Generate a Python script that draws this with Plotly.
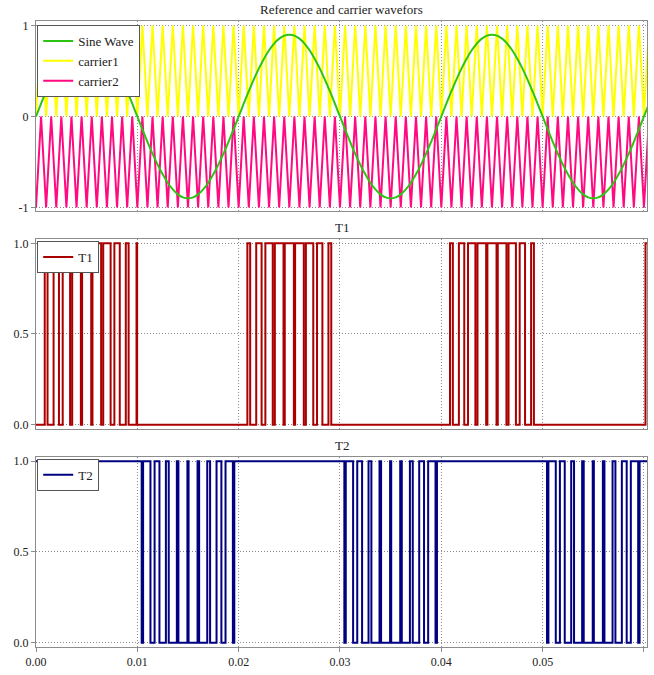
import plotly.graph_objects as go

# ---------------- data ----------------
carrier_t = [
    0.0, 0.0005, 0.001, 0.0015, 0.002, 0.0025, 0.003, 0.0035, 0.004, 0.0045,
    0.005, 0.0055, 0.006, 0.0065, 0.007, 0.0075, 0.008, 0.0085, 0.009, 0.0095,
    0.01, 0.0105, 0.011, 0.0115, 0.012, 0.0125, 0.013, 0.0135, 0.014, 0.0145,
    0.015, 0.0155, 0.016, 0.0165, 0.017, 0.0175, 0.018, 0.0185, 0.019, 0.0195,
    0.02, 0.0205, 0.021, 0.0215, 0.022, 0.0225, 0.023, 0.0235, 0.024, 0.0245,
    0.025, 0.0255, 0.026, 0.0265, 0.027, 0.0275, 0.028, 0.0285, 0.029, 0.0295,
    0.03, 0.0305, 0.031, 0.0315, 0.032, 0.0325, 0.033, 0.0335, 0.034, 0.0345,
    0.035, 0.0355, 0.036, 0.0365, 0.037, 0.0375, 0.038, 0.0385, 0.039, 0.0395,
    0.04, 0.0405, 0.041, 0.0415, 0.042, 0.0425, 0.043, 0.0435, 0.044, 0.0445,
    0.045, 0.0455, 0.046, 0.0465, 0.047, 0.0475, 0.048, 0.0485, 0.049, 0.0495,
    0.05, 0.0505, 0.051, 0.0515, 0.052, 0.0525, 0.053, 0.0535, 0.054, 0.0545,
    0.055, 0.0555, 0.056, 0.0565, 0.057, 0.0575, 0.058, 0.0585, 0.059, 0.0595,
    0.06, 0.0605,
]

carrier1 = [
    0, 1, 0, 1, 0, 1, 0, 1, 0, 1,
    0, 1, 0, 1, 0, 1, 0, 1, 0, 1,
    0, 1, 0, 1, 0, 1, 0, 1, 0, 1,
    0, 1, 0, 1, 0, 1, 0, 1, 0, 1,
    0, 1, 0, 1, 0, 1, 0, 1, 0, 1,
    0, 1, 0, 1, 0, 1, 0, 1, 0, 1,
    0, 1, 0, 1, 0, 1, 0, 1, 0, 1,
    0, 1, 0, 1, 0, 1, 0, 1, 0, 1,
    0, 1, 0, 1, 0, 1, 0, 1, 0, 1,
    0, 1, 0, 1, 0, 1, 0, 1, 0, 1,
    0, 1, 0, 1, 0, 1, 0, 1, 0, 1,
    0, 1, 0, 1, 0, 1, 0, 1, 0, 1,
    0, 1,
]

carrier2 = [
    -1, 0, -1, 0, -1, 0, -1, 0, -1, 0,
    -1, 0, -1, 0, -1, 0, -1, 0, -1, 0,
    -1, 0, -1, 0, -1, 0, -1, 0, -1, 0,
    -1, 0, -1, 0, -1, 0, -1, 0, -1, 0,
    -1, 0, -1, 0, -1, 0, -1, 0, -1, 0,
    -1, 0, -1, 0, -1, 0, -1, 0, -1, 0,
    -1, 0, -1, 0, -1, 0, -1, 0, -1, 0,
    -1, 0, -1, 0, -1, 0, -1, 0, -1, 0,
    -1, 0, -1, 0, -1, 0, -1, 0, -1, 0,
    -1, 0, -1, 0, -1, 0, -1, 0, -1, 0,
    -1, 0, -1, 0, -1, 0, -1, 0, -1, 0,
    -1, 0, -1, 0, -1, 0, -1, 0, -1, 0,
    -1, 0,
]

sine_wave = [
    0.0, 0.141, 0.278, 0.409, 0.529, 0.636, 0.728, 0.802, 0.856, 0.889,
    0.9, 0.889, 0.856, 0.802, 0.728, 0.636, 0.529, 0.409, 0.278, 0.141,
    0.0, -0.141, -0.278, -0.409, -0.529, -0.636, -0.728, -0.802, -0.856, -0.889,
    -0.9, -0.889, -0.856, -0.802, -0.728, -0.636, -0.529, -0.409, -0.278, -0.141,
    0.0, 0.141, 0.278, 0.409, 0.529, 0.636, 0.728, 0.802, 0.856, 0.889,
    0.9, 0.889, 0.856, 0.802, 0.728, 0.636, 0.529, 0.409, 0.278, 0.141,
    0.0, -0.141, -0.278, -0.409, -0.529, -0.636, -0.728, -0.802, -0.856, -0.889,
    -0.9, -0.889, -0.856, -0.802, -0.728, -0.636, -0.529, -0.409, -0.278, -0.141,
    0.0, 0.141, 0.278, 0.409, 0.529, 0.636, 0.728, 0.802, 0.856, 0.889,
    0.9, 0.889, 0.856, 0.802, 0.728, 0.636, 0.529, 0.409, 0.278, 0.141,
    0.0, -0.141, -0.278, -0.409, -0.529, -0.636, -0.728, -0.802, -0.856, -0.889,
    -0.9, -0.889, -0.856, -0.802, -0.728, -0.636, -0.529, -0.409, -0.278, -0.141,
    0.0, 0.141,
]

# T1 pulses: times where T1 goes high, and where it goes low again
t1_rise = [
    0.000861, 0.001735, 0.002636, 0.003572, 0.00455, 0.005572, 0.006636, 0.007735, 0.008861, 0.00992,
    0.020861, 0.021735, 0.022636, 0.023572, 0.02455, 0.025572, 0.026636, 0.027735, 0.028861,
    0.040861, 0.041735, 0.042636, 0.043572, 0.04455, 0.045572, 0.046636, 0.047735, 0.048861,
    0.06015,
]
t1_fall = [
    0.001139, 0.002265, 0.003364, 0.004428, 0.00545, 0.006428, 0.007364, 0.008265, 0.009139, 0.00998,
    0.021139, 0.022265, 0.023364, 0.024428, 0.02545, 0.026428, 0.027364, 0.028265, 0.029139,
    0.041139, 0.042265, 0.043364, 0.044428, 0.04545, 0.046428, 0.047364, 0.048265, 0.049139,
    0.0606,
]

# T2 gaps: times where T2 goes low, and where it goes high again
t2_fall = [
    0.01043, 0.011296, 0.012182, 0.013099, 0.014056, 0.015056, 0.016099, 0.017182, 0.018296, 0.01943,
    0.03043, 0.031296, 0.032182, 0.033099, 0.034056, 0.035056, 0.036099, 0.037182, 0.038296, 0.03943,
    0.05043, 0.051296, 0.052182, 0.053099, 0.054056, 0.055056, 0.056099, 0.057182, 0.058296, 0.05943,
]
t2_rise = [
    0.01057, 0.011704, 0.012818, 0.013901, 0.014944, 0.015944, 0.016901, 0.017818, 0.018704, 0.01957,
    0.03057, 0.031704, 0.032818, 0.033901, 0.034944, 0.035944, 0.036901, 0.037818, 0.038704, 0.03957,
    0.05057, 0.051704, 0.052818, 0.053901, 0.054944, 0.055944, 0.056901, 0.057818, 0.058704, 0.05957,
]

x_ticks = [0.0, 0.01, 0.02, 0.03, 0.04, 0.05, 0.06]
x_ticktext = ["0.00", "0.01", "0.02", "0.03", "0.04", "0.05", "0.06"]
y1_ticks = [-1, 0, 1]
y1_ticktext = ["-1", "0", "1"]
y2_ticks = [0, 0.5, 1]
y2_ticktext = ["0.0", "0.5", "1.0"]

titles = ["Reference and carrier wavefors", "T1", "T2"]

# ---------------- build step series ----------------
t1_x, t1_y = [0.0], [0]
for r, f in zip(t1_rise, t1_fall):
    t1_x += [r, f]
    t1_y += [1, 0]

t2_x, t2_y = [0.0], [1]
for f, r in zip(t2_fall, t2_rise):
    t2_x += [f, r]
    t2_y += [0, 1]
t2_x.append(0.0606)
t2_y.append(1)

FONT = "Liberation Serif, Times New Roman, serif"
GREEN = "rgb(45,195,20)"
YELLOW = "#FFFF00"
MAGENTA = "rgb(255,10,128)"
DARKRED = "rgb(170,0,0)"
NAVY = "#000080"

fig = go.Figure()
fig.add_trace(go.Scatter(x=carrier_t, y=carrier1, mode="lines", name="carrier1",
                         line=dict(color=YELLOW, width=2), legendrank=2,
                         xaxis="x", yaxis="y", legend="legend"))
fig.add_trace(go.Scatter(x=carrier_t, y=carrier2, mode="lines", name="carrier2",
                         line=dict(color=MAGENTA, width=2), legendrank=3,
                         xaxis="x", yaxis="y", legend="legend"))
fig.add_trace(go.Scatter(x=carrier_t, y=sine_wave, mode="lines", name="Sine Wave",
                         line=dict(color=GREEN, width=2, shape="spline"), legendrank=1,
                         xaxis="x", yaxis="y", legend="legend"))
fig.add_trace(go.Scatter(x=t1_x, y=t1_y, mode="lines", name="T1",
                         line=dict(color=DARKRED, width=2, shape="hv"),
                         xaxis="x2", yaxis="y2", legend="legend2"))
fig.add_trace(go.Scatter(x=t2_x, y=t2_y, mode="lines", name="T2",
                         line=dict(color=NAVY, width=2, shape="hv"),
                         xaxis="x3", yaxis="y3", legend="legend3"))

H_PLOT = 629.0
doms = [[(650 - 212) / H_PLOT, 1.0],
        [(650 - 431) / H_PLOT, (650 - 240) / H_PLOT],
        [0.0, (650 - 459) / H_PLOT]]

axis_common = dict(showline=True, linecolor="#8c8c8c", linewidth=1, mirror=True,
                   showgrid=True, gridcolor="#8a8a8a", griddash="1px,2px", gridwidth=1,
                   zeroline=False, tickfont=dict(family=FONT, size=12, color="#222"))

xr = [0.0, 0.0603]
layout = dict(
    width=654, height=675,
    margin=dict(l=36, r=6, t=21, b=25),
    paper_bgcolor="white", plot_bgcolor="white",
    font=dict(family=FONT, size=12, color="#222"),
    showlegend=True,
)
for i, key in enumerate(["", "2", "3"]):
    xa = dict(axis_common, range=xr, tickvals=x_ticks, ticktext=x_ticktext,
              anchor="y" + key, domain=[0, 1])
    if key != "3":
        xa.update(showticklabels=False, ticks="")
    else:
        xa.update(ticks="outside", ticklen=4, tickcolor="#8c8c8c")
    if key != "":
        xa["matches"] = "x"
    layout["xaxis" + key] = xa
    if key == "":
        ya = dict(axis_common, range=[-1.04, 1.05], tickvals=y1_ticks, ticktext=y1_ticktext)
    else:
        ya = dict(axis_common, range=[-0.024, 1.024], tickvals=y2_ticks, ticktext=y2_ticktext)
    ya.update(anchor="x" + key, domain=doms[i], ticks="outside", ticklen=4, tickcolor="#8c8c8c")
    layout["yaxis" + key] = ya

leg_common = dict(x=0.002, xanchor="left", yanchor="top", bgcolor="white",
                  bordercolor="#555", borderwidth=1, tracegroupgap=0,
                  font=dict(family=FONT, size=13, color="#222"), itemwidth=30)
layout["legend"] = dict(leg_common, y=doms[0][1] - 4 / H_PLOT)
layout["legend2"] = dict(leg_common, y=doms[1][1] - 2 / H_PLOT)
layout["legend3"] = dict(leg_common, y=doms[2][1] - 2 / H_PLOT)

fig.update_layout(**layout)

for i, key in enumerate(["", "2", "3"]):
    fig.add_annotation(text=titles[i], xref="x" + key + " domain", yref="y" + key + " domain",
                       x=0.5, y=1, xanchor="center", yanchor="bottom", yshift=2,
                       showarrow=False, font=dict(family=FONT, size=13, color="#222"))

fig.write_html("out.html")
